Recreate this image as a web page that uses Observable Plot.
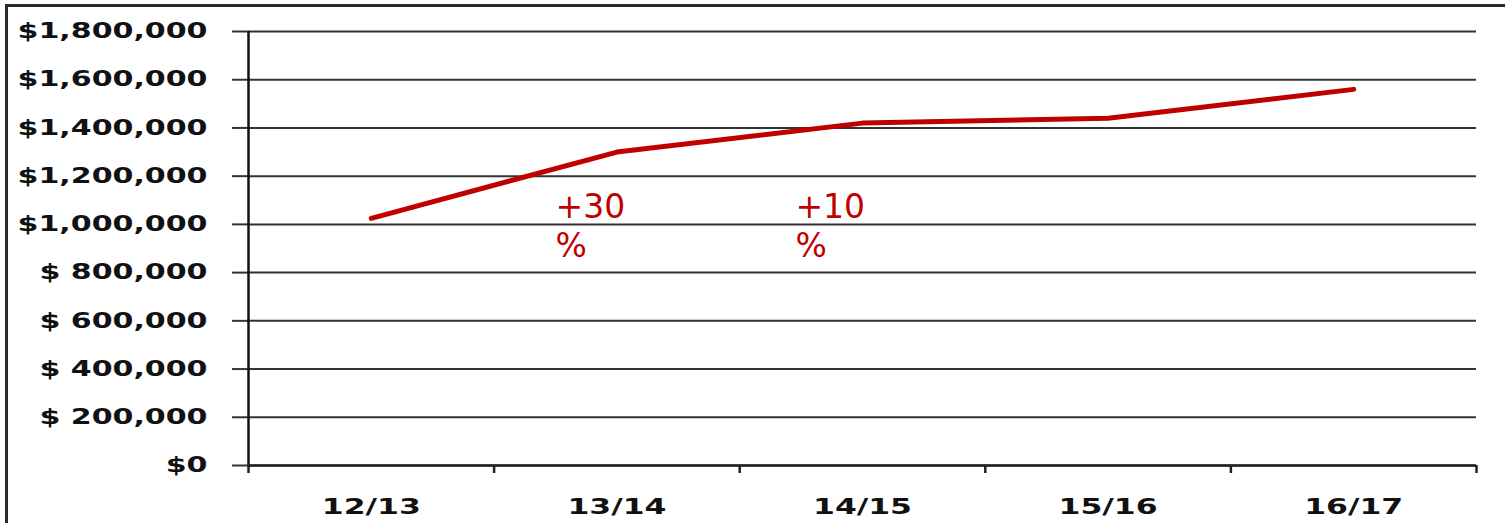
<!DOCTYPE html>
<html>
<head>
<meta charset="utf-8">
<script src="https://cdn.jsdelivr.net/npm/d3@7"></script>
<script src="https://cdn.jsdelivr.net/npm/@observablehq/plot@0.6"></script>
<style>
html, body { margin: 0; padding: 0; background: #fff; }
#wrap { position: relative; width: 1505px; height: 523px; overflow: hidden; background: #fff; }
#frame { position: absolute; left: 5px; top: 4px; width: 1600px; height: 600px;
  border-left: 3px solid #2a2a2a; border-top: 3px solid #2a2a2a; pointer-events: none; }
#wrap svg { position: absolute; left: 0; top: 0; }
</style>
</head>
<body>
<div id="wrap"><div id="frame"></div></div>
<script>
// ---- data ----
const seasons = ["12/13", "13/14", "14/15", "15/16", "16/17"];
const revenue = [1025000, 1300000, 1420000, 1440000, 1560000];
const yTicks = [0, 200000, 400000, 600000, 800000, 1000000, 1200000, 1400000, 1600000, 1800000];
const yTickLabels = ["$0", "$ 200,000", "$ 400,000", "$ 600,000", "$ 800,000",
  "$1,000,000", "$1,200,000", "$1,400,000", "$1,600,000", "$1,800,000"];
const growthLabels = ["+30", "+10"];
const growthUnit = ["%", "%"];
const growthPos = [1.25, 2.227];        // position along the season axis (season index units)
const growthValue = [1125000, 1125000]; // height in $ of the label's top

// ---- tables built from the arrays ----
const data = seasons.map((s, i) => ({season: s, pos: i + 0.5, revenue: revenue[i]}));
const notes = growthLabels.map((t, i) => ({text: t, unit: growthUnit[i], pos: growthPos[i], value: growthValue[i]}));
const boundaries = d3.range(0, seasons.length + 1);
const centers = seasons.map((s, i) => i + 0.5);

const noteStyle = {x: "pos", y: "value", textAnchor: "start", lineAnchor: "top",
  fontSize: 33, fill: "#c00000", fontFamily: "'DejaVu Sans', Verdana, sans-serif"};

const chart = Plot.plot({
  width: 1505,
  height: 523,
  marginLeft: 248,
  marginRight: 29,
  marginTop: 31,
  marginBottom: 58,
  style: {background: "transparent", fontFamily: "'DejaVu Sans', Verdana, sans-serif", color: "#111"},
  x: {domain: [0, seasons.length], axis: null},
  y: {domain: [0, 1800000], axis: null},
  marks: [
    Plot.ruleY(yTicks, {stroke: "#333", strokeWidth: 2}),
    Plot.axisY({
      ticks: yTicks, tickSize: 16, tickPadding: 25,
      tickFormat: d => yTickLabels[yTicks.indexOf(d)],
      fontSize: 21, fontWeight: "bold", stroke: "#333", strokeWidth: 2, label: null
    }),
    Plot.ruleX([0], {y1: 0, y2: 1800000, stroke: "#111", strokeWidth: 2.5}),
    Plot.ruleY([0], {stroke: "#222", strokeWidth: 2.5}),
    Plot.axisX({ticks: boundaries, tickSize: 8, tickFormat: () => "", stroke: "#222", strokeWidth: 2.5, label: null}),
    Plot.axisX({
      ticks: centers, tickSize: 0, tickPadding: 33,
      tickFormat: d => seasons[Math.floor(d)],
      fontSize: 22, fontWeight: "bold", label: null
    }),
    Plot.line(data, {x: "pos", y: "revenue", stroke: "#c00000", strokeWidth: 5,
      strokeLinecap: "round", strokeLinejoin: "round"}),
    Plot.text(notes, {...noteStyle, text: "text"}),
    Plot.text(notes, {...noteStyle, text: "unit", dy: 39})
  ]
});

// horizontally stretched axis lettering, as in the reference
d3.select(chart).selectAll('g[aria-label="y-axis tick label"] text, g[aria-label="x-axis tick label"] text')
  .each(function () {
    const t = this.getAttribute("transform");
    if (t) this.setAttribute("transform", t + " scale(1.43,1)");
  });

document.getElementById("wrap").appendChild(chart);
</script>
</body>
</html>
